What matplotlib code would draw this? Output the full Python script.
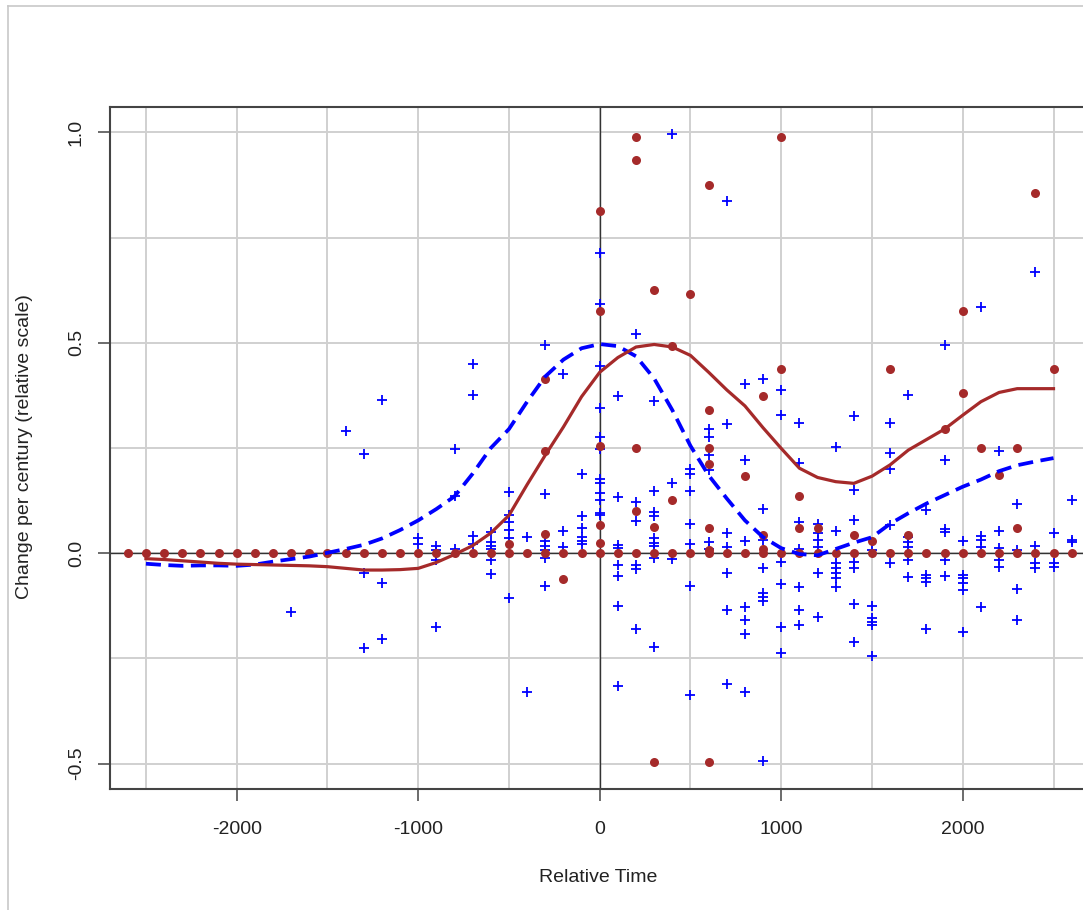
import numpy as np
import matplotlib
matplotlib.use("Agg")
import matplotlib.pyplot as plt
from matplotlib.lines import Line2D

plt.rcParams['font.family'] = ['Liberation Sans', 'DejaVu Sans']
plt.rcParams['axes.unicode_minus'] = False

# blue "+" points: time -> values
blue_t = [-1700, -1400, -1300, -1200, -1000, -900, -800, -700, -600, -500,
          -400, -300, -200, -100, 0, 100, 200, 300, 400, 500, 600, 700,
          800, 900, 1000, 1100, 1200, 1300, 1400, 1500, 1600, 1700, 1800,
          1900, 2000, 2100, 2200, 2300, 2400, 2500, 2600]
blue_v = [
    [-0.14],
    [0.29],
    [0.235, -0.048, -0.226],
    [0.365, -0.07, -0.203],
    [0.035, 0.023],
    [0.018, 0.007, -0.017, -0.175],
    [0.248, 0.137, 0.01],
    [0.45, 0.376, 0.04, 0.023],
    [0.05, 0.026, 0.018, 0.01, -0.017, -0.05],
    [0.145, 0.09, 0.074, 0.054, 0.035, -0.107],
    [0.039, -0.329],
    [0.494, 0.141, 0.028, 0.018, 0.007, -0.012, -0.078],
    [0.427, 0.052, 0.014],
    [0.188, 0.089, 0.059, 0.039, 0.03, 0.021],
    [0.714, 0.591, 0.445, 0.344, 0.277, 0.247, 0.176, 0.166, 0.144, 0.127, 0.095, 0.091],
    [0.374, 0.134, 0.019, 0.012, -0.028, -0.054, -0.126, -0.315],
    [0.522, 0.122, 0.077, -0.028, -0.038, -0.179],
    [0.361, 0.148, 0.097, 0.088, 0.035, 0.025, 0.016, -0.012, -0.224],
    [0.997, 0.166, -0.014],
    [0.201, 0.189, 0.149, 0.07, 0.022, -0.078, -0.336],
    [0.295, 0.275, 0.233, 0.197, 0.026, 0.01],
    [0.837, 0.308, 0.047, 0.014, -0.048, -0.136, -0.31],
    [0.403, 0.221, 0.029, -0.127, -0.159, -0.192, -0.329],
    [0.413, 0.104, 0.031, -0.036, -0.094, -0.104, -0.113, -0.493],
    [0.387, 0.328, -0.02, -0.074, -0.175, -0.238],
    [0.309, 0.214, 0.074, 0.011, -0.08, -0.136, -0.171],
    [0.07, 0.047, 0.031, 0.015, -0.047, -0.151],
    [0.252, 0.053, -0.024, -0.036, -0.048, -0.06, -0.08],
    [0.325, 0.151, 0.08, -0.021, -0.036, -0.12, -0.211],
    [0.007, -0.126, -0.155, -0.163, -0.171, -0.245],
    [0.309, 0.237, 0.201, 0.066, -0.024],
    [0.376, 0.038, 0.026, 0.015, -0.015, -0.056],
    [0.102, -0.051, -0.06, -0.068, -0.181],
    [0.494, 0.221, 0.058, 0.05, -0.015, -0.055],
    [0.029, -0.051, -0.06, -0.071, -0.088, -0.187],
    [0.585, 0.042, 0.031, 0.015, -0.129],
    [0.243, 0.053, 0.013, -0.017, -0.033],
    [0.116, 0.007, -0.084, -0.159],
    [0.669, 0.016, -0.024, -0.036],
    [0.047, -0.023, -0.033],
    [0.127, 0.032, 0.026],
]

# red dots: one at zero for every century, plus the non-zero ones
red_zero_t = list(range(-2600, 2601, 100))
red_t = [-500, -300, -200, 0, 200, 300, 400, 500, 600, 800, 900, 1000,
         1100, 1200, 1400, 1500, 1600, 1700, 1900, 2000, 2100, 2200, 2300,
         2400, 2500]
red_v = [
    [0.022],
    [0.413, 0.242, 0.045],
    [-0.062],
    [0.812, 0.575, 0.255, 0.067, 0.025],
    [0.99, 0.935, 0.25, 0.101],
    [0.625, 0.062, -0.496],
    [0.492, 0.127],
    [0.615],
    [0.876, 0.34, 0.25, 0.212, 0.059, 0.007, -0.496],
    [0.183],
    [0.374, 0.043, 0.01],
    [0.99, 0.437],
    [0.137, 0.061],
    [0.061],
    [0.043],
    [0.028],
    [0.437],
    [0.043],
    [0.295],
    [0.576, 0.381],
    [0.25],
    [0.185],
    [0.25, 0.061],
    [0.857],
    [0.437],
]

# smoothed curves
curve_t = list(range(-2500, 2501, 100))
red_curve = [-0.013, -0.015, -0.018, -0.021, -0.024, -0.026, -0.027, -0.028,
             -0.029, -0.030, -0.032, -0.036, -0.040, -0.040, -0.039, -0.036,
             -0.022, -0.003, 0.018, 0.048, 0.09, 0.163, 0.233, 0.30, 0.372,
             0.43, 0.465, 0.49, 0.496, 0.49, 0.47, 0.43, 0.388, 0.35, 0.298,
             0.249, 0.202, 0.18, 0.17, 0.166, 0.183, 0.21, 0.245, 0.27, 0.295,
             0.328, 0.36, 0.382, 0.391, 0.391, 0.391]
blue_curve = [-0.025, -0.028, -0.030, -0.029, -0.029, -0.030, -0.027, -0.02,
              -0.014, -0.008, 0.001, 0.01, 0.02, 0.035, 0.055, 0.078, 0.105,
              0.135, 0.189, 0.25, 0.295, 0.36, 0.42, 0.46, 0.487, 0.497,
              0.492, 0.468, 0.415, 0.34, 0.255, 0.185, 0.13, 0.078, 0.038,
              0.012, -0.002, -0.005, 0.01, 0.025, 0.038, 0.07, 0.095, 0.118,
              0.138, 0.158, 0.175, 0.195, 0.209, 0.218, 0.226]

bx = [t for t, vs in zip(blue_t, blue_v) for v in vs]
by = [v for t, vs in zip(blue_t, blue_v) for v in vs]
rx = red_zero_t + [t for t, vs in zip(red_t, red_v) for v in vs]
ry = [0.0] * len(red_zero_t) + [v for t, vs in zip(red_t, red_v) for v in vs]

W, H = 1083, 910
fig = plt.figure(figsize=(W / 100, H / 100), dpi=100)
ax = fig.add_axes([110 / W, 1 - 789.3 / H, 976 / W, (789.3 - 106.7) / H])

ax.set_xlim(-2698, 2679)
ax.set_ylim(-0.561, 1.061)

ax.set_xticks([-2000, -1000, 0, 1000, 2000])
ax.set_xticks(np.arange(-2500, 2501, 500), minor=True)
ax.set_yticks([-0.5, 0.0, 0.5, 1.0])
ax.set_yticklabels(['-0.5', '0.0', '0.5', '1.0'], rotation=90, va='center')
ax.set_yticks(np.arange(-0.5, 1.01, 0.25), minor=True)
ax.grid(which='both', color='#d0d0d0', lw=1.4, zorder=0)
ax.set_axisbelow(True)
ax.tick_params(which='minor', length=0)
ax.tick_params(which='major', length=8.6, width=1.1, color='#444444',
               labelsize=14, labelcolor='#222222')
ax.tick_params(axis='x', pad=14)
ax.tick_params(axis='y', pad=9.5)
for s in ax.spines.values():
    s.set_color('#444444')
    s.set_linewidth(1.5)

ax.axhline(0, color='#333333', lw=1.0, zorder=1)
ax.axvline(0, color='#333333', lw=1.0, zorder=1)

ax.plot(bx, by, ls='none', marker='+', ms=7, mew=1.3, color='blue', zorder=2)
ax.plot(rx, ry, ls='none', marker='o', ms=6.5, mew=0, color='#a52a2a', zorder=3)
ax.plot(curve_t, blue_curve, color='blue', lw=2.7, ls=(0, (4, 2)), zorder=4)
ax.plot(curve_t, red_curve, color='#a52a2a', lw=2.3, zorder=5)

fig.text(598 / W, 1 - 878 / H, 'Relative Time', ha='center', va='center',
         fontsize=14, color='#222222')
fig.text(25 / W, 1 - 447 / H, 'Change per century (relative scale)',
         rotation=90, ha='center', va='center', fontsize=14, color='#222222')

# screenshot frame
fig.add_artist(Line2D([8 / W, 1], [1 - 6 / H, 1 - 6 / H], transform=fig.transFigure,
                      color='#c8c8c8', lw=1.2))
fig.add_artist(Line2D([8 / W, 8 / W], [0, 1 - 6 / H], transform=fig.transFigure,
                      color='#c8c8c8', lw=1.2))

fig.savefig('out.png', dpi=100)
